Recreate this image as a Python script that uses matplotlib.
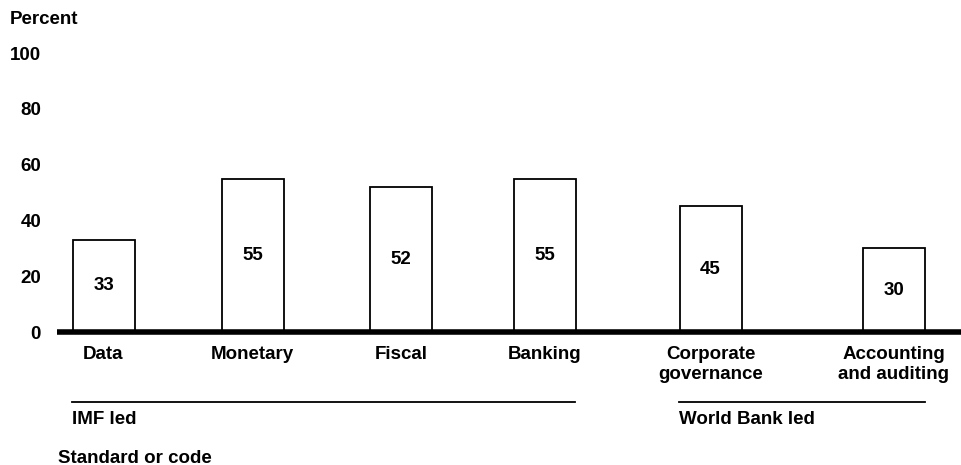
import matplotlib.pyplot as plt

plt.rcParams['font.family'] = ['Liberation Sans', 'DejaVu Sans']
plt.rcParams['font.weight'] = 'bold'

# data
categories = ['Data', 'Monetary', 'Fiscal', 'Banking',
              'Corporate\ngovernance', 'Accounting\nand auditing']
values = [33, 55, 52, 55, 45, 30]
yticks = [0, 20, 40, 60, 80, 100]
groups = ['IMF led', 'World Bank led']

# layout (pixel units on a 961x465 canvas)
W, H = 961, 465
bar_x = [103.5, 252.5, 401, 545, 710.5, 894]
bar_w = 62
group_spans = [(72, 575), (679, 925)]
base_y, top_y = 332, 53
fs = 13.5

fig = plt.figure(figsize=(W / 100, H / 100), dpi=100)
ax = fig.add_axes([57 / W, (H - base_y) / H, 1 - 57 / W, (base_y - top_y) / H])
ax.set_xlim(57, W)
ax.set_ylim(0, 100)

ax.bar(bar_x, values, width=bar_w, facecolor='white', edgecolor='black',
       linewidth=1.3, zorder=2)
for x, v in zip(bar_x, values):
    ax.text(x, v / 2, str(v), ha='center', va='center', fontsize=fs,
            fontweight='bold')
ax.axhline(0, color='black', linewidth=4, zorder=3, clip_on=False,
           solid_capstyle='butt')

for s in ax.spines.values():
    s.set_visible(False)
ax.set_yticks(yticks)
ax.set_yticklabels([str(t) for t in yticks], fontsize=fs, fontweight='bold')
ax.tick_params(axis='y', length=0, pad=11.5)
ax.set_xticks([])

# annotation layer in pixel coordinates
ann = fig.add_axes([0, 0, 1, 1], zorder=-1)
ann.set_xlim(0, W)
ann.set_ylim(H, 0)
ann.axis('off')

ann.text(10, 20, 'Percent', ha='left', va='center', fontsize=fs, fontweight='bold')
for x, c in zip(bar_x, categories):
    ann.text(x, 346, c, ha='center', va='top', fontsize=fs, fontweight='bold',
             linespacing=1.2)
for (x0, x1), g in zip(group_spans, groups):
    ann.plot([x0, x1], [401.5, 401.5], color='black', linewidth=1.3)
    ann.text(x0, 419, g, ha='left', va='center', fontsize=fs, fontweight='bold')
ann.text(58, 458, 'Standard or code', ha='left', va='center', fontsize=fs,
         fontweight='bold')

fig.savefig('out.png', dpi=100)
